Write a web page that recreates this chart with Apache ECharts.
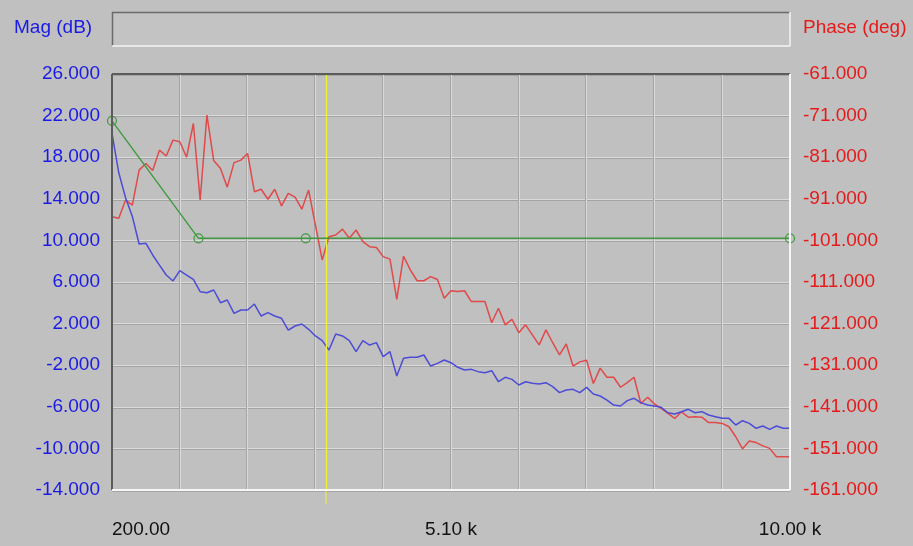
<!DOCTYPE html>
<html>
<head>
<meta charset="utf-8">
<script src="https://cdn.jsdelivr.net/npm/echarts@6/dist/echarts.min.js"></script>
<style>
html,body{margin:0;padding:0;background:#c0c0c0;}
#c{width:913px;height:546px;}
</style>
</head>
<body>
<div id="c"></div>
<script>
// ---- data ----
var freq = [200,298,396,494,592,690,788,886,984,1082,
1180,1278,1376,1474,1572,1670,1768,1866,1964,2062,
2160,2258,2356,2454,2552,2650,2748,2846,2944,3042,
3140,3238,3336,3434,3532,3630,3728,3826,3924,4022,
4120,4218,4316,4414,4512,4610,4708,4806,4904,5002,
5100,5198,5296,5394,5492,5590,5688,5786,5884,5982,
6080,6178,6276,6374,6472,6570,6668,6766,6864,6962,
7060,7158,7256,7354,7452,7550,7648,7746,7844,7942,
8040,8138,8236,8334,8432,8530,8628,8726,8824,8922,
9020,9118,9216,9314,9412,9510,9608,9706,9804,9902,
10000];
var magDb = [20.3,16.5,14.1,12.3,9.65,9.72,8.6,7.63,6.67,6.1,
7.09,6.67,6.25,5.07,4.97,5.23,4.01,4.27,2.99,3.31,
3.31,3.88,2.73,3.05,2.73,2.51,1.38,1.77,1.96,1.45,
0.81,0.36,-0.54,1.0,0.81,0.36,-0.70,0.36,-0.06,0.17,
-1.18,-0.70,-3.04,-1.34,-1.24,-1.24,-1.02,-2.08,-1.82,-1.50,
-1.76,-2.20,-2.46,-2.40,-2.62,-2.72,-2.53,-3.59,-3.16,-3.36,
-3.90,-3.59,-3.74,-3.81,-3.68,-4.06,-4.64,-4.38,-4.32,-4.64,
-4.13,-4.77,-4.96,-5.35,-5.83,-5.92,-5.41,-5.18,-5.60,-5.83,
-5.92,-6.05,-6.57,-6.69,-6.47,-6.24,-6.57,-6.47,-6.79,-6.95,
-7.11,-7.11,-7.75,-7.34,-7.59,-8.07,-7.85,-8.17,-7.85,-8.07,
-8.07];
var phaseDeg = [-95.3,-95.7,-91.3,-92.5,-84.1,-82.5,-84.2,-79.3,-80.7,-76.9,
-77.3,-81.0,-72.9,-91.3,-70.9,-81.8,-83.7,-88.2,-82.3,-81.7,
-80.1,-89.3,-88.7,-91.1,-88.7,-92.7,-89.7,-90.6,-93.5,-88.9,
-97.3,-105.7,-100.1,-99.7,-98.3,-100.5,-98.5,-101.3,-102.5,-102.7,
-104.9,-105.5,-115.2,-104.8,-108.1,-110.7,-110.7,-109.7,-110.4,-114.9,
-113.1,-113.3,-113.1,-115.7,-115.7,-115.7,-120.8,-117.3,-121.3,-120.0,
-123.2,-121.3,-123.7,-126.1,-122.5,-125.6,-128.5,-125.9,-131.2,-130.2,
-129.8,-135.4,-131.7,-133.9,-133.9,-136.3,-135.2,-133.9,-140.2,-138.7,
-140.3,-141.4,-142.6,-143.8,-142.2,-143.5,-143.4,-143.5,-144.8,-144.8,
-145.0,-145.8,-148.2,-151.1,-149.2,-149.6,-150.4,-151.0,-153.0,-153.0,
-153.0];
var targetFreq = [200, 1450, 3000, 10000];
var targetMag = [21.5, 10.2, 10.2, 10.2];
var cursorFreq = 3293;
var xLabelValues = [200, 5100, 10000];
var xLabelTexts = ['200.00', '5.10 k', '10.00 k'];
var magAxis = {min: -14, max: 26, step: 4};
var phaseAxis = {min: -161, max: -61, step: 10};
var xAxisRange = {min: 200, max: 10000, step: 980};

// ---- chart ----
var FONT = '"Liberation Sans", Arial, sans-serif';
var BLUE_TXT = '#1a1ae6', RED_TXT = '#e61a1a';
var chart = echarts.init(document.getElementById('c'), null, {renderer: 'canvas'});

function zip(a, b) { return a.map(function (v, i) { return [v, b[i]]; }); }

var gridL = 112, gridT = 74, gridR = 123, gridB = 56;
var etchH = {color: '#dadada', width: 1, shadowColor: '#a4a4a4', shadowOffsetY: 1, shadowBlur: 0};
var etchV = {color: '#dadada', width: 1, shadowColor: '#a4a4a4', shadowOffsetX: -1, shadowBlur: 0};

chart.setOption({
  animation: false,
  backgroundColor: '#c0c0c0',
  grid: {left: gridL, top: gridT, right: gridR, bottom: gridB, show: false},
  xAxis: {
    type: 'value', min: xAxisRange.min, max: xAxisRange.max, interval: xAxisRange.step,
    axisLine: {show: false}, axisTick: {show: false},
    splitLine: {show: true, lineStyle: etchV},
    axisLabel: {
      margin: 30, color: '#111', fontFamily: FONT, fontSize: 19,
      showMinLabel: true, showMaxLabel: true, alignMinLabel: 'left',
      formatter: function (v) {
        for (var i = 0; i < xLabelValues.length; i++) {
          if (Math.abs(v - xLabelValues[i]) < 1) return xLabelTexts[i];
        }
        return '';
      }
    }
  },
  yAxis: [{
    type: 'value', min: magAxis.min, max: magAxis.max, interval: magAxis.step, position: 'left',
    axisLine: {show: false}, axisTick: {show: false},
    splitLine: {show: true, lineStyle: etchH},
    axisLabel: {margin: 12, color: BLUE_TXT, fontFamily: FONT, fontSize: 19,
      formatter: function (v) { return v.toFixed(3); }}
  }, {
    type: 'value', min: phaseAxis.min, max: phaseAxis.max, interval: phaseAxis.step, position: 'right',
    axisLine: {show: false}, axisTick: {show: false}, splitLine: {show: false},
    axisLabel: {margin: 13, color: RED_TXT, fontFamily: FONT, fontSize: 19,
      formatter: function (v) { return v.toFixed(3); }}
  }],
  series: [{
    name: 'Phase', type: 'line', yAxisIndex: 1, data: zip(freq, phaseDeg),
    showSymbol: false, symbol: 'none', lineStyle: {color: '#e04a4a', width: 1.5}, z: 3
  }, {
    name: 'Mag', type: 'line', yAxisIndex: 0, data: zip(freq, magDb),
    showSymbol: false, symbol: 'none', lineStyle: {color: '#4c4cd6', width: 1.5}, z: 4
  }, {
    name: 'Target', type: 'line', yAxisIndex: 0, data: zip(targetFreq, targetMag),
    symbol: 'circle', symbolSize: 9, showSymbol: true, clip: true,
    lineStyle: {color: '#3f9a3f', width: 1.4},
    itemStyle: {color: 'rgba(0,0,0,0)', borderColor: '#3f9a3f', borderWidth: 1.2}, z: 5,
    markLine: {
      silent: true, symbol: 'none', label: {show: false},
      lineStyle: {color: '#f2f230', type: 'solid', width: 1.3},
      data: [{xAxis: cursorFreq}]
    }
  }]
});

// frame and header (sunken look)
var px = chart.convertToPixel({xAxisIndex: 0}, cursorFreq);
var L = gridL, R = 913 - gridR, T = gridT, B = 546 - gridB;
chart.setOption({
  graphic: [
    {type: 'rect', shape: {x: L, y: 12, width: R - L, height: 34}, style: {fill: '#c3c3c3'}, silent: true},
    {type: 'line', shape: {x1: L, y1: 12.5, x2: R, y2: 12.5}, style: {stroke: '#6a6a6a', lineWidth: 1.5}},
    {type: 'line', shape: {x1: L + 0.5, y1: 12, x2: L + 0.5, y2: 46}, style: {stroke: '#6a6a6a', lineWidth: 1.5}},
    {type: 'line', shape: {x1: L, y1: 46, x2: R, y2: 46}, style: {stroke: '#f4f4f4', lineWidth: 1.5}},
    {type: 'line', shape: {x1: R, y1: 12, x2: R, y2: 46}, style: {stroke: '#f4f4f4', lineWidth: 1.5}},
    {type: 'line', shape: {x1: L, y1: T, x2: R, y2: T}, style: {stroke: '#5c5c5c', lineWidth: 2}, z: 10},
    {type: 'line', shape: {x1: L, y1: T, x2: L, y2: B}, style: {stroke: '#5c5c5c', lineWidth: 2}, z: 10},
    {type: 'line', shape: {x1: L, y1: B, x2: R, y2: B}, style: {stroke: '#f6f6f6', lineWidth: 2}, z: 10},
    {type: 'line', shape: {x1: R, y1: T, x2: R, y2: B}, style: {stroke: '#f6f6f6', lineWidth: 2}, z: 10},
    {type: 'line', shape: {x1: px, y1: B, x2: px, y2: B + 14}, style: {stroke: '#f2f230', lineWidth: 1}},
    {type: 'text', left: 14, top: 18, style: {text: 'Mag (dB)', fill: BLUE_TXT, font: '19px ' + FONT}},
    {type: 'text', left: 803, top: 18, style: {text: 'Phase (deg)', fill: RED_TXT, font: '19px ' + FONT}}
  ]
});
</script>
</body>
</html>
